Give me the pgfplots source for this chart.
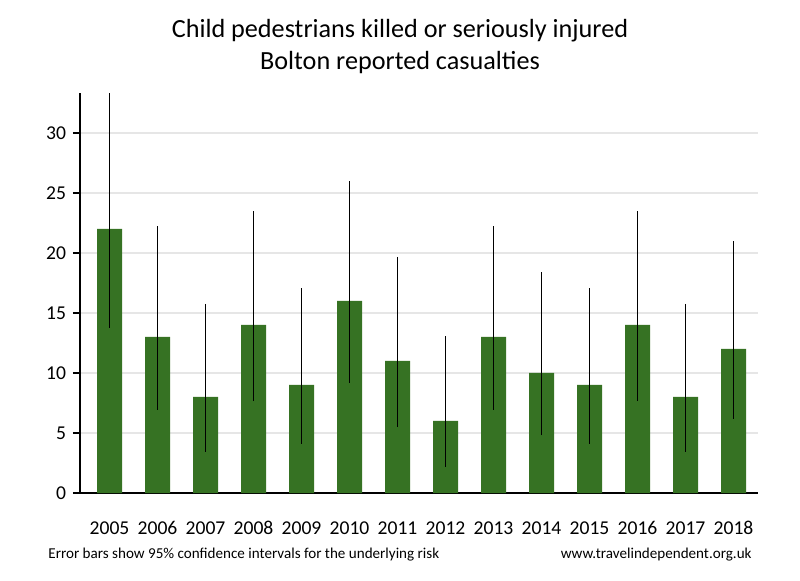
\documentclass[border=0pt]{standalone}
\usepackage{fontspec}
\setmainfont{Carlito}
\usepackage{pgfplots}
\pgfplotsset{compat=1.18}

\definecolor{barGreen}{RGB}{54,114,35}
\definecolor{gridGray}{RGB}{230,230,230}

\begin{document}
\begin{tikzpicture}[x=0.5pt,y=0.5pt]
% 1px of the reference = 0.5pt
\useasboundingbox (0,0) rectangle (800,580);

\begin{axis}[
    at={(40pt,43.5pt)}, anchor=south west,
    scale only axis,
    width=339pt, height=200pt,
    xmin=-0.615, xmax=13.51,
    ymin=0, ymax=33.33,
    axis x line*=bottom, axis y line*=left,
    axis line style={-, line width=1pt, black},
    xtick={0,...,13},
    xticklabels={2005,2006,2007,2008,2009,2010,2011,2012,2013,2014,2015,2016,2017,2018},
    xtick style={draw=none},
    xticklabel style={anchor=base, yshift=-17pt},
    ytick={0,5,...,30},
    tick align=outside,
    major tick length=3.5pt,
    ytick style={line width=1pt, black},
    ymajorgrids,
    grid style={gridGray, line width=0.8pt},
    tick label style={font=\fontsize{9.8}{11}\selectfont},
    /pgf/number format/assume math mode=true,
    ybar, bar width=12.5pt,
]
\addplot[fill=barGreen, draw=none,
    error bars/.cd, y dir=both, y explicit,
    error mark=none,
    error bar style={black, line width=0.5pt}]
coordinates {
    (0,22)  += (0,11.31) -= (0,8.21)
    (1,13)  += (0,9.23)  -= (0,6.08)
    (2,8)   += (0,7.76)  -= (0,4.55)
    (3,14)  += (0,9.49)  -= (0,6.35)
    (4,9)   += (0,8.08)  -= (0,4.88)
    (5,16)  += (0,9.98)  -= (0,6.85)
    (6,11)  += (0,8.68)  -= (0,5.51)
    (7,6)   += (0,7.06)  -= (0,3.80)
    (8,13)  += (0,9.23)  -= (0,6.08)
    (9,10)  += (0,8.39)  -= (0,5.20)
    (10,9)  += (0,8.08)  -= (0,4.88)
    (11,14) += (0,9.49)  -= (0,6.35)
    (12,8)  += (0,7.76)  -= (0,4.55)
    (13,12) += (0,8.96)  -= (0,5.80)
};
\end{axis}

\node[font=\fontsize{13.1}{15}\selectfont, anchor=base] at (400,542) {Child pedestrians killed or seriously injured};
\node[font=\fontsize{13.1}{15}\selectfont, anchor=base] at (400,510) {Bolton reported casualties};
\node[font=\fontsize{7.55}{8}\selectfont, anchor=base west, inner sep=0pt] at (48,22) {Error bars show 95\% confidence intervals for the underlying risk};
\node[font=\fontsize{7.55}{8}\selectfont, anchor=base east, inner sep=0pt] at (752,22) {www.travelindependent.org.uk};
\end{tikzpicture}
\end{document}
